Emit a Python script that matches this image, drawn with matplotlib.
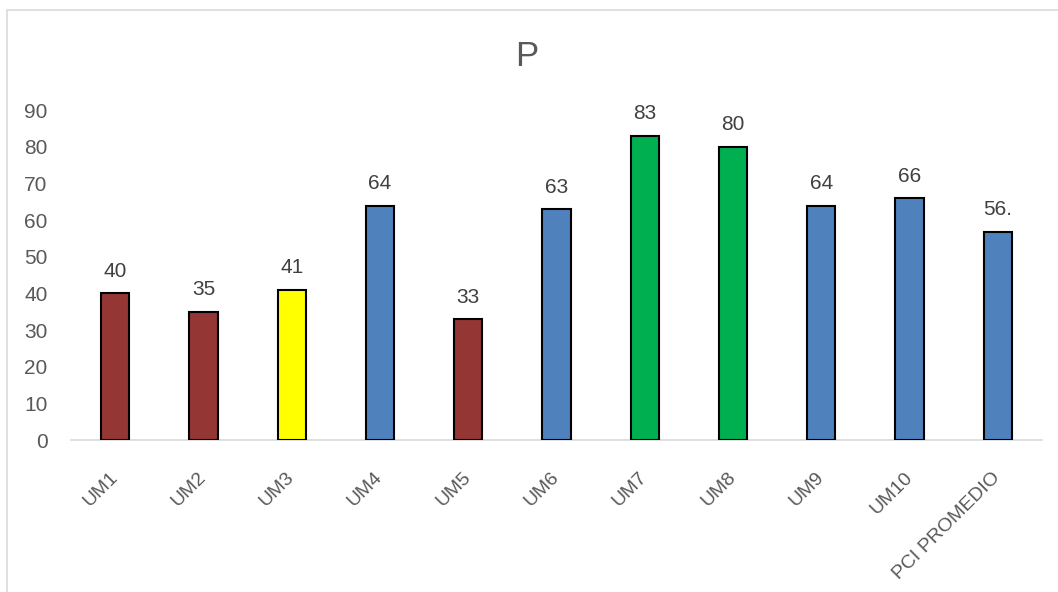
import numpy as np
import matplotlib.pyplot as plt
from matplotlib.patches import Rectangle

plt.rcParams['font.family'] = ['Liberation Sans', 'DejaVu Sans']

# data
categories = ['UM1', 'UM2', 'UM3', 'UM4', 'UM5', 'UM6', 'UM7', 'UM8', 'UM9', 'UM10', 'PCI PROMEDIO']
values = [40, 35, 41, 64, 33, 63, 83, 80, 64, 66, 56.9]
labels = ['40', '35', '41', '64', '33', '63', '83', '80', '64', '66', '56.']
colors = ['#943634', '#943634', '#FFFF00', '#4F81BD', '#943634', '#4F81BD',
          '#00B050', '#00B050', '#4F81BD', '#4F81BD', '#4F81BD']

W, H = 1058, 592
fig = plt.figure(figsize=(W / 100, H / 100), dpi=100)
ax = fig.add_axes([71 / W, 1 - 440 / H, (1042 - 71) / W, 348 / H])

x = np.arange(len(categories))
ax.bar(x, values, width=0.32, color=colors, edgecolor='black', linewidth=1.5, zorder=3)

for xi, v, lab in zip(x, values, labels):
    ax.annotate(lab, (xi, v), xytext=(0, 9), textcoords='offset points',
                ha='center', va='bottom', fontsize=15, color='#404040')

ax.set_xlim(-0.5, len(categories) - 0.5)
ax.set_ylim(0, 95)
ax.set_yticks(range(0, 100, 10))
ax.tick_params(axis='y', length=0, labelsize=15, labelcolor='#595959', pad=17)
ax.tick_params(axis='x', length=0, pad=25)
ax.set_xticks(x)
ax.set_xticklabels(categories, rotation=45, ha='right', va='center',
                   rotation_mode='anchor', fontsize=14, color='#595959')

for s in ['top', 'right', 'left']:
    ax.spines[s].set_visible(False)
ax.spines['bottom'].set_color('#D9D9D9')
ax.spines['bottom'].set_linewidth(1.2)

fig.text(527 / W, 1 - 56 / H, 'P', ha='center', va='center', fontsize=25, color='#595959')

# chart frame
fig.patches.append(Rectangle((7 / W, -0.1), 1.2, 1 - 10 / H + 0.1, transform=fig.transFigure,
                             fill=False, edgecolor='#D9D9D9', linewidth=1.2))

fig.savefig('out.png', dpi=100)
